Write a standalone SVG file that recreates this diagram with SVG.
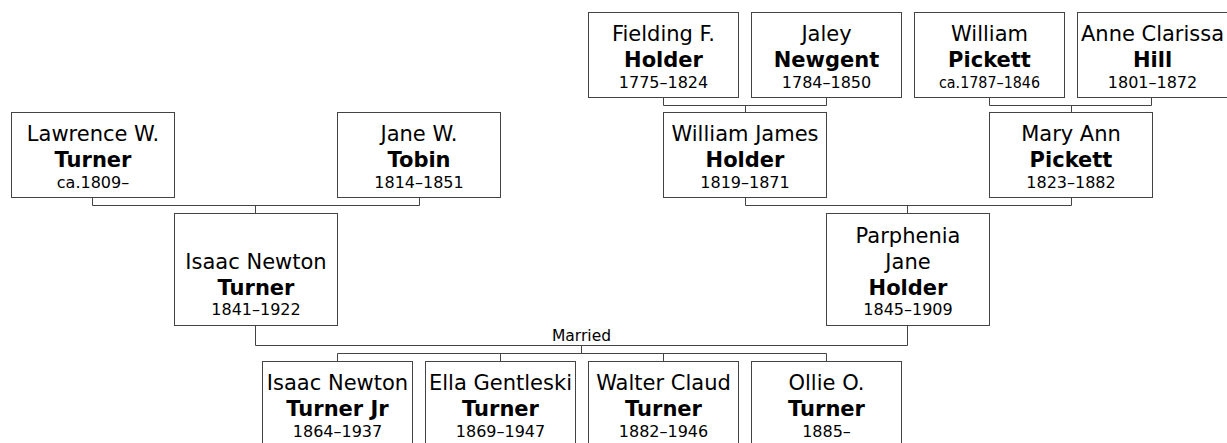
<svg xmlns="http://www.w3.org/2000/svg" width="1227" height="443" viewBox="0 0 1227 443">
<style>
  .box { fill: #ffffff; stroke: #444444; stroke-width: 1; }
  .con { fill: none; stroke: #444444; stroke-width: 1; }
  text { font-family: "DejaVu Sans", Verdana, sans-serif; fill: #000000; text-anchor: middle; }
  .nm { font-size: 21px; }
  .sn { font-size: 21px; font-weight: bold; }
  .dt { font-size: 16px; }
  .lbl { font-size: 15.5px; }
</style>
<rect width="1227" height="443" fill="#ffffff"/>
<g id="connectors">
  <path class="con" d="M92.5,197.5 V205.5 H419.5 V197.5 M255.5,205.5 V213.5"/>
  <path class="con" d="M663.5,97.5 V105.5 H826.5 V97.5 M745.5,105.5 V112.5"/>
  <path class="con" d="M989.5,97.5 V105.5 H1151.5 V97.5 M1071.5,105.5 V112.5"/>
  <path class="con" d="M745.5,197.5 V205.5 H1071.5 V197.5 M907.5,205.5 V213.5"/>
  <path class="con" d="M255.5,325.5 V345.5 H907.5 V325.5 M581.5,345.5 V353.5"/>
  <path class="con" d="M337.5,361.5 V353.5 H826.5 V361.5 M500.5,353.5 V361.5 M663.5,353.5 V361.5"/>
  <text class="lbl" x="581.5" y="341">Married</text>
</g>
<g id="fielding">
  <rect class="box" x="588.5" y="12.5" width="150" height="85"/>
  <text class="nm" x="663.5" y="41">Fielding F.</text>
  <text class="sn" x="663.5" y="67">Holder</text>
  <text class="dt" x="663.5" y="87.5">1775–1824</text>
</g>
<g id="jaley">
  <rect class="box" x="751.5" y="12.5" width="150" height="85"/>
  <text class="nm" x="826.5" y="41">Jaley</text>
  <text class="sn" x="826.5" y="67">Newgent</text>
  <text class="dt" x="826.5" y="87.5">1784–1850</text>
</g>
<g id="william-pickett">
  <rect class="box" x="914.5" y="12.5" width="150" height="85"/>
  <text class="nm" x="989.5" y="41">William</text>
  <text class="sn" x="989.5" y="67">Pickett</text>
  <text class="dt" x="989.5" y="87.5" textLength="101" lengthAdjust="spacingAndGlyphs">ca.1787–1846</text>
</g>
<g id="anne">
  <rect class="box" x="1077.5" y="12.5" width="150" height="85"/>
  <text class="nm" x="1152.5" y="41" textLength="143" lengthAdjust="spacingAndGlyphs">Anne Clarissa</text>
  <text class="sn" x="1152.5" y="67">Hill</text>
  <text class="dt" x="1152.5" y="87.5">1801–1872</text>
</g>
<g id="lawrence">
  <rect class="box" x="11.5" y="112.5" width="163" height="85"/>
  <text class="nm" x="93" y="141">Lawrence W.</text>
  <text class="sn" x="93" y="167">Turner</text>
  <text class="dt" x="93" y="187.5">ca.1809–</text>
</g>
<g id="jane">
  <rect class="box" x="337.5" y="112.5" width="163" height="85"/>
  <text class="nm" x="419" y="141">Jane W.</text>
  <text class="sn" x="419" y="167">Tobin</text>
  <text class="dt" x="419" y="187.5">1814–1851</text>
</g>
<g id="william-james">
  <rect class="box" x="663.5" y="112.5" width="163" height="85"/>
  <text class="nm" x="745" y="141">William James</text>
  <text class="sn" x="745" y="167">Holder</text>
  <text class="dt" x="745" y="187.5">1819–1871</text>
</g>
<g id="mary-ann">
  <rect class="box" x="989.5" y="112.5" width="163" height="85"/>
  <text class="nm" x="1071" y="141">Mary Ann</text>
  <text class="sn" x="1071" y="167">Pickett</text>
  <text class="dt" x="1071" y="187.5">1823–1882</text>
</g>
<g id="isaac">
  <rect class="box" x="174.5" y="213.5" width="163" height="112"/>
  <text class="nm" x="256" y="268.5">Isaac Newton</text>
  <text class="sn" x="256" y="294.5">Turner</text>
  <text class="dt" x="256" y="314.5">1841–1922</text>
</g>
<g id="parphenia">
  <rect class="box" x="826.5" y="213.5" width="163" height="112"/>
  <text class="nm" x="908" y="242.5">Parphenia</text>
  <text class="nm" x="908" y="268.5">Jane</text>
  <text class="sn" x="908" y="294.5">Holder</text>
  <text class="dt" x="908" y="314.5">1845–1909</text>
</g>
<g id="isaac-jr">
  <rect class="box" x="262.5" y="361.5" width="150" height="85"/>
  <text class="nm" x="337.5" y="390">Isaac Newton</text>
  <text class="sn" x="337.5" y="416">Turner Jr</text>
  <text class="dt" x="337.5" y="436.5">1864–1937</text>
</g>
<g id="ella">
  <rect class="box" x="425.5" y="361.5" width="150" height="85"/>
  <text class="nm" x="500.5" y="390" textLength="143" lengthAdjust="spacingAndGlyphs">Ella Gentleski</text>
  <text class="sn" x="500.5" y="416">Turner</text>
  <text class="dt" x="500.5" y="436.5">1869–1947</text>
</g>
<g id="walter">
  <rect class="box" x="588.5" y="361.5" width="150" height="85"/>
  <text class="nm" x="663.5" y="390">Walter Claud</text>
  <text class="sn" x="663.5" y="416">Turner</text>
  <text class="dt" x="663.5" y="436.5">1882–1946</text>
</g>
<g id="ollie">
  <rect class="box" x="751.5" y="361.5" width="150" height="85"/>
  <text class="nm" x="826.5" y="390">Ollie O.</text>
  <text class="sn" x="826.5" y="416">Turner</text>
  <text class="dt" x="826.5" y="436.5">1885–</text>
</g>
</svg>
